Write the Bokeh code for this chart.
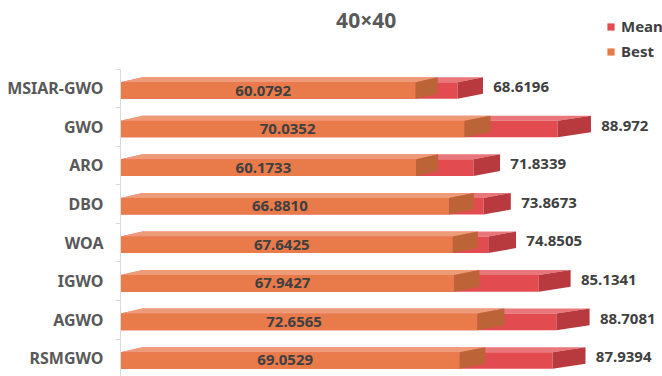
from bokeh.plotting import figure
from bokeh.models import Range1d, FixedTicker, Legend, LegendItem
from bokeh.core.properties import value
from bokeh.embed import file_html
from bokeh.resources import INLINE

# ---- data ----
title_text = "40×40"
algorithms = ["MSIAR-GWO", "GWO", "ARO", "DBO", "WOA", "IGWO", "AGWO", "RSMGWO"]
best = [60.0792, 70.0352, 60.1733, 66.8810, 67.6425, 67.9427, 72.6565, 69.0529]
mean = [68.6196, 88.972, 71.8339, 73.8673, 74.8505, 85.1341, 88.7081, 87.9394]
best_labels = ["60.0792", "70.0352", "60.1733", "66.8810", "67.6425", "67.9427", "72.6565", "69.0529"]
mean_labels = ["68.6196", "88.972", "71.8339", "73.8673", "74.8505", "85.1341", "88.7081", "87.9394"]

# ---- style ----
PX_X = 4.913          # pixels per x unit
PX_Y = 38.57          # pixels per category
FONT = "Noto Sans"
front_top = -6.1 / PX_Y
front_bot = 10.5 / PX_Y
depth_dy = 5.0 / PX_Y
dx_left = 22.0 / PX_X

def depth_dx(v):
    return dx_left + 0.08 * max(0.0, v - 60.1)

ORANGE = dict(front="#E97B4B", top="#EE9C77", side="#BC6437")
RED = dict(front="#E24B50", top="#E9767A", side="#B83A3F")

W, H = 662, 376
LEFT = 120
p = figure(width=W, height=H, output_backend="svg", toolbar_location=None,
           x_range=Range1d(0, (W - LEFT) / PX_X),
           y_range=Range1d((H - 87.8) / PX_Y, -87.8 / PX_Y),
           x_axis_type=None, min_border_left=LEFT, min_border_right=0,
           min_border_top=0, min_border_bottom=0)
p.outline_line_color = None
p.xgrid.visible = False
p.ygrid.visible = False
p.background_fill_color = "white"
p.border_fill_color = "white"

idx = list(range(len(algorithms)))


def bar_faces(vals, colors):
    tops_x, tops_y, sides_x, sides_y = [], [], [], []
    for i, v in zip(idx, vals):
        d = depth_dx(v)
        t = i + front_top
        b = i + front_bot
        tops_x.append([0, dx_left, v + d, v])
        tops_y.append([t, t - depth_dy, t - depth_dy, t])
        sides_x.append([v, v + d, v + d, v])
        sides_y.append([t, t - depth_dy, b - depth_dy, b])
    p.patches(tops_x, tops_y, fill_color=colors["top"], line_color=None)
    front = p.quad(left=[0] * len(vals), right=vals,
                   top=[i + front_top for i in idx], bottom=[i + front_bot for i in idx],
                   fill_color=colors["front"], line_color=None)
    p.patches(sides_x, sides_y, fill_color=colors["side"], line_color=None)
    return front


r_mean = bar_faces(mean, RED)
r_best = bar_faces(best, ORANGE)

# value labels inside orange bars
p.text(x=[b / 2 - 1 for b in best], y=[i + (front_top + front_bot) / 2 for i in idx],
       text=best_labels, text_align="center", text_baseline="middle",
       text_font=value(FONT), text_font_size="15px", text_font_style="bold",
       text_color="#404040")

# end labels
p.text(x=[m + depth_dx(m) + 2.1 for m in mean], y=[i - 0.03 for i in idx],
       text=mean_labels, text_align="left", text_baseline="middle",
       text_font=value(FONT), text_font_size="15px", text_font_style="bold",
       text_color="#404040")

# title
p.text(x=[50], y=[-68 / PX_Y], text=[title_text], text_align="center",
       text_baseline="middle", text_font=value(FONT), text_font_size="21px",
       text_font_style="bold", text_color="#595959")

# y axis
ax = p.yaxis[0]
ax.ticker = FixedTicker(ticks=idx, minor_ticks=[i - 0.5 for i in idx] + [len(idx) - 0.5])
ax.major_label_overrides = {i: a for i, a in zip(idx, algorithms)}
ax.bounds = (-0.5, len(idx) - 0.5)
ax.axis_line_color = "#D9D9D9"
ax.major_tick_line_color = None
ax.major_tick_out = 0
ax.major_tick_in = 0
ax.minor_tick_line_color = "#D9D9D9"
ax.minor_tick_out = 5
ax.minor_tick_in = 0
ax.major_label_standoff = 12
ax.major_label_text_font = FONT
ax.major_label_text_font_size = "16px"
ax.major_label_text_font_style = "bold"
ax.major_label_text_color = "#595959"

legend = Legend(items=[LegendItem(label="Mean", renderers=[r_mean]),
                       LegendItem(label="Best", renderers=[r_best])],
                location=(486, 315), orientation="vertical",
                glyph_width=9, glyph_height=9, label_standoff=6,
                padding=0, margin=0, spacing=5, label_height=20,
                background_fill_alpha=0, border_line_color=None,
                label_text_font=FONT, label_text_font_size="15px",
                label_text_font_style="bold", label_text_color="#404040")
p.add_layout(legend)

open("out.html", "w").write(file_html(p, INLINE))
